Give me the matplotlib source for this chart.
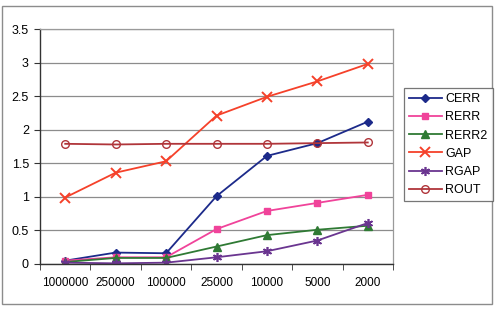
import matplotlib.pyplot as plt
from matplotlib.patches import Rectangle

plt.rcParams["font.family"] = ["Liberation Sans", "DejaVu Sans"]

categories = ["1000000", "250000", "100000", "25000", "10000", "5000", "2000"]
cerr = [0.05, 0.17, 0.16, 1.01, 1.61, 1.80, 2.12]
rerr = [0.05, 0.10, 0.10, 0.52, 0.79, 0.91, 1.03]
rerr2 = [0.03, 0.09, 0.09, 0.26, 0.43, 0.51, 0.57]
gap = [0.99, 1.36, 1.53, 2.21, 2.49, 2.72, 2.98]
rgap = [0.02, 0.01, 0.02, 0.10, 0.19, 0.35, 0.61]
rout = [1.79, 1.78, 1.79, 1.79, 1.79, 1.80, 1.81]

y_ticks = [0, 0.5, 1, 1.5, 2, 2.5, 3, 3.5]
y_tick_labels = ["0", "0.5", "1", "1.5", "2", "2.5", "3", "3.5"]

series = [
    ("CERR", cerr, "#1c2a8a", dict(marker="D", markersize=4.5)),
    ("RERR", rerr, "#f0439a", dict(marker="s", markersize=5)),
    ("RERR2", rerr2, "#2f7a34", dict(marker="^", markersize=5.5)),
    ("GAP", gap, "#f5412a", dict(marker="x", markersize=6.5, markeredgewidth=1.4)),
    ("RGAP", rgap, "#6a3590", dict(marker=(6, 2, 0), markersize=6.5, markeredgewidth=1.2)),
    ("ROUT", rout, "#b0353a", dict(marker="o", markersize=5.5, markerfacecolor="none", markeredgewidth=1.0)),
]

fig = plt.figure(figsize=(4.96, 3.10), dpi=100)
fig.patch.set_facecolor("white")
# outer chart border
fig.patches.append(Rectangle((2 / 496, 6 / 310), 490 / 496, 298 / 310, transform=fig.transFigure,
                             fill=False, edgecolor="#8c8c8c", linewidth=1.0))

ax = fig.add_axes([40 / 496, 46 / 310, 353 / 496, 235 / 310])
x = list(range(len(categories)))
for name, vals, color, style in series:
    ax.plot(x, vals, color=color, linewidth=1.3, label=name, **style)

ax.set_xlim(-0.5, len(categories) - 0.5)
ax.set_ylim(0, 3.5)
ax.set_yticks(y_ticks)
ax.set_yticklabels(y_tick_labels)
ax.set_xticks(x)
ax.set_xticklabels(categories)
ax.set_xticks([i - 0.5 for i in range(len(categories) + 1)], minor=True)
ax.tick_params(axis="x", which="major", length=0, pad=9, labelsize=8.5)
ax.tick_params(axis="x", which="minor", length=4, direction="out", color="#333333")
ax.tick_params(axis="y", length=4, direction="out", labelsize=9, pad=4, color="#333333")
ax.yaxis.grid(True, color="#8c8c8c", linewidth=0.9)
ax.set_axisbelow(True)
for side in ("top", "right"):
    ax.spines[side].set_color("#9a9a9a")
    ax.spines[side].set_linewidth(0.9)
for side in ("left", "bottom"):
    ax.spines[side].set_color("#333333")
    ax.spines[side].set_linewidth(1.0)

leg = fig.legend(loc="upper left", bbox_to_anchor=(404 / 496, 1 - 88 / 310), frameon=True,
                 fancybox=False, fontsize=9, handlelength=2.6, handletextpad=0.3,
                 borderpad=0.4, labelspacing=0.5, borderaxespad=0)
leg.get_frame().set_edgecolor("#555555")
leg.get_frame().set_linewidth(0.9)

fig.savefig("out.png", dpi=100)
